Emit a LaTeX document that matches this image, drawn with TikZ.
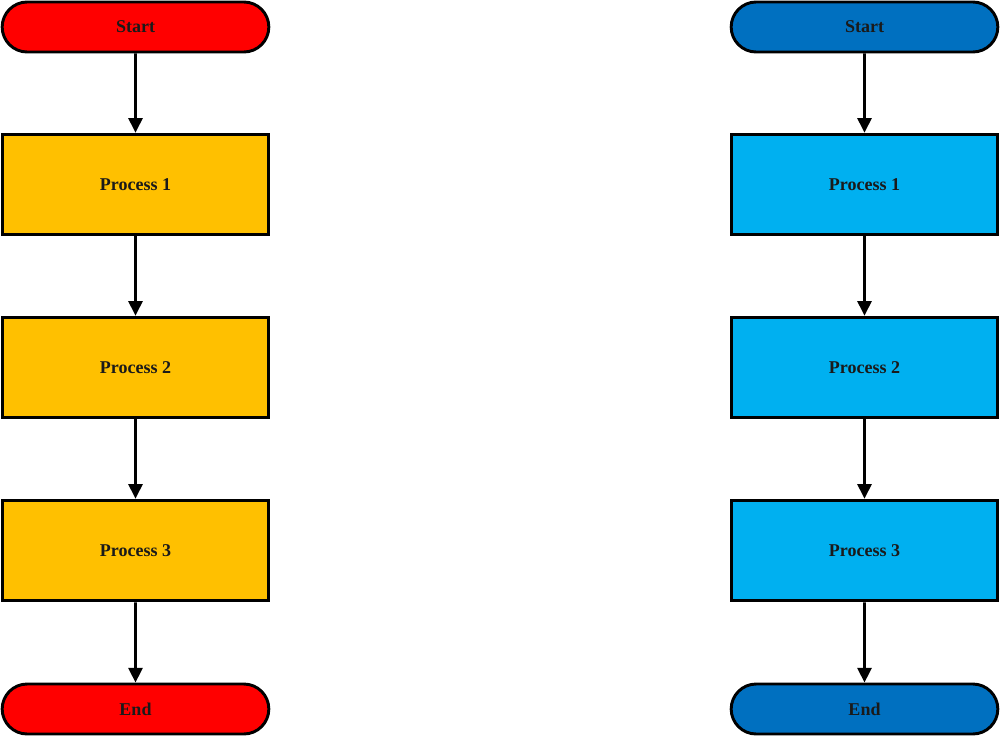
\documentclass[tikz,border=0pt]{standalone}
\usepackage{fontspec}
\setmainfont{Liberation Serif}
\usetikzlibrary{arrows.meta,shapes.misc}
\definecolor{termred}{HTML}{FF0000}
\definecolor{procorange}{HTML}{FFC000}
\definecolor{termblue}{HTML}{0070C0}
\definecolor{proccyan}{HTML}{00B0F0}
\definecolor{txt}{HTML}{1A1A1A}
\tikzset{
  base/.style={draw=black, line width=2.2pt, minimum width=200pt, font=\fontsize{13.5}{15}\selectfont\bfseries, text=txt, inner sep=0pt},
  term/.style={base, rounded rectangle, minimum height=37.5pt},
  procbox/.style={base, rectangle, minimum height=75.5pt},
  conn/.style={line width=2.2pt, -{Triangle[width=10.5pt,length=11pt]}}
}
\begin{document}
\begin{tikzpicture}[x=0.75pt,y=-0.75pt]
\useasboundingbox (0,0) rectangle (1000,736);
% left column
\node[term, fill=termred] (ls) at (135.5,27) {Start};
\node[procbox, fill=procorange] (lp1) at (135.5,184.5) {Process 1};
\node[procbox, fill=procorange] (lp2) at (135.5,367.5) {Process 2};
\node[procbox, fill=procorange] (lp3) at (135.5,550.5) {Process 3};
\node[term, fill=termred] (le) at (135.5,709) {End};
\draw[conn] (ls) -- (lp1);
\draw[conn] (lp1) -- (lp2);
\draw[conn] (lp2) -- (lp3);
\draw[conn] (lp3) -- (le);
% right column
\node[term, fill=termblue] (rs) at (864.5,27) {Start};
\node[procbox, fill=proccyan] (rp1) at (864.5,184.5) {Process 1};
\node[procbox, fill=proccyan] (rp2) at (864.5,367.5) {Process 2};
\node[procbox, fill=proccyan] (rp3) at (864.5,550.5) {Process 3};
\node[term, fill=termblue] (re) at (864.5,709) {End};
\draw[conn] (rs) -- (rp1);
\draw[conn] (rp1) -- (rp2);
\draw[conn] (rp2) -- (rp3);
\draw[conn] (rp3) -- (re);
\end{tikzpicture}
\end{document}
